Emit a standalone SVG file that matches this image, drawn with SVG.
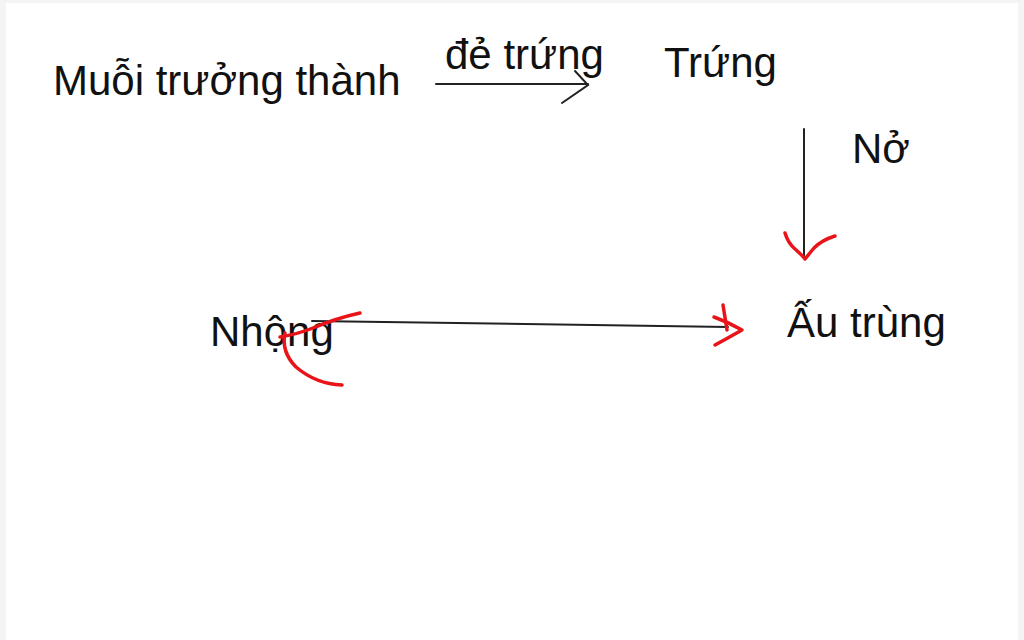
<svg xmlns="http://www.w3.org/2000/svg" width="1024" height="640" viewBox="0 0 1024 640">
<style>
.t{font-family:Arial,"Liberation Sans",sans-serif;font-size:42px;fill:#111}
.k{stroke:#222;stroke-width:2;fill:none;stroke-linecap:round}
.r{stroke:#e8141a;stroke-width:3.5;fill:none;stroke-linecap:round;stroke-linejoin:round}
</style>
<rect x="0" y="0" width="1024" height="640" fill="#f4f4f4"/>
<rect x="6" y="3" width="1012" height="640" fill="#ffffff"/>
<g id="node-muoi"><text class="t" x="53" y="95">Muỗi trưởng thành</text></g>
<g id="node-trung"><text class="t" x="664" y="77">Trứng</text></g>
<g id="node-autrung"><text class="t" x="787" y="337">Ấu trùng</text></g>
<g id="node-nhong"><text class="t" x="210" y="346">Nhộng</text></g>
<g id="connectors">
<line class="k" x1="436" y1="84" x2="588" y2="84"/>
<polyline class="k" points="575,71 588,85 562,103"/>
<text class="t" x="445" y="69">đẻ trứng</text>
<line class="k" x1="804" y1="129" x2="804" y2="256"/>
<path class="r" d="M785,233 Q788,243 795,249 Q803,256 805,259 Q809,254 814,248 Q822,240 835,236"/>
<text class="t" x="852" y="163">Nở</text>
<line class="k" x1="312" y1="321" x2="728" y2="327" stroke-width="2.2"/>
<path class="r" d="M723,305 L727,330"/>
<path class="r" d="M714,317 Q728,322 742,330 Q728,338 715,345"/>
<path class="r" d="M280,337 Q298,334 313,328 Q337,318 360,313"/>
<path class="r" d="M285,333 Q281,352 296,367 Q316,384 342,385"/>
</g>
</svg>
